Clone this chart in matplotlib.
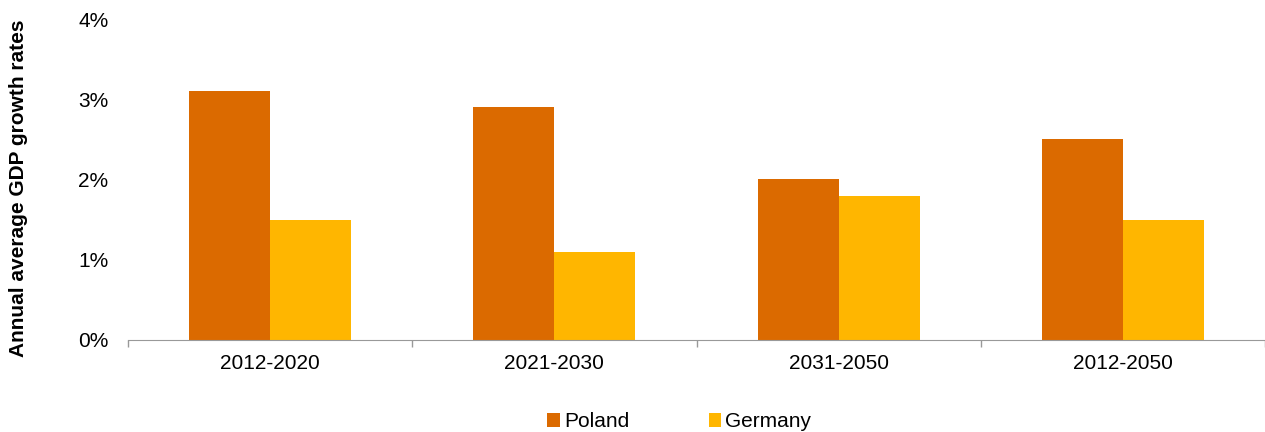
import numpy as np
import matplotlib.pyplot as plt
from matplotlib.ticker import FuncFormatter

# data
periods = ['2012-2020', '2021-2030', '2031-2050', '2012-2050']
poland = [3.1, 2.9, 2.0, 2.5]
germany = [1.5, 1.1, 1.8, 1.5]

plt.rcParams['font.family'] = ['Liberation Sans', 'DejaVu Sans']

fig = plt.figure(figsize=(12.65, 4.32), dpi=100)
ax = fig.add_axes([0.1012, 0.213, 0.8988, 0.743])

x = np.arange(len(periods))
width = 0.285
ax.bar(x - width / 2, poland, width, color='#DB6A00', label='Poland')
ax.bar(x + width / 2, germany, width, color='#FFB600', label='Germany')

ax.set_xlim(-0.5, len(periods) - 0.5)
ax.set_ylim(0, 4)
ax.set_yticks([0, 1, 2, 3, 4])
ax.yaxis.set_major_formatter(FuncFormatter(lambda v, p: f'{v:.0f}%'))
ax.tick_params(axis='y', length=0, pad=14, labelsize=15)

# category labels in the middle, tick marks on the boundaries
ax.set_xticks(x)
ax.set_xticklabels(periods)
ax.set_xticks(np.arange(-0.5, len(periods), 1), minor=True)
ax.tick_params(axis='x', which='major', length=0, pad=10, labelsize=15)
ax.tick_params(axis='x', which='minor', length=5, color='#999999', width=1)

for side in ['top', 'right', 'left']:
    ax.spines[side].set_visible(False)
ax.spines['bottom'].set_color('#999999')

ax.set_ylabel('Annual average GDP growth rates', fontsize=15,
              fontweight='bold')
ax.yaxis.set_label_coords(-0.088, 0.472)

fig.legend(loc='lower center', bbox_to_anchor=(0.537, -0.042), ncol=2,
           frameon=False, fontsize=15, handlelength=0.6, handleheight=0.6,
           handletextpad=0.2, columnspacing=3.8)

fig.savefig('out.png', dpi=100)
